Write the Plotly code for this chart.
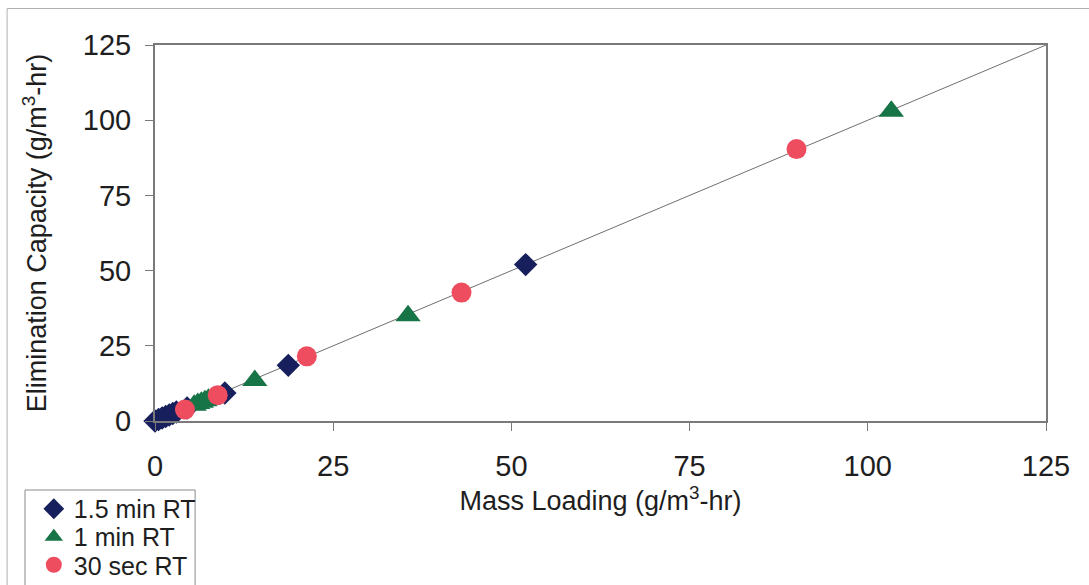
import plotly.graph_objects as go

# --- data ---
rt15_x = [0, 0.5, 1, 1.5, 2, 2.5, 3, 4.5, 9.8, 18.7, 52]
rt15_y = [0, 0.5, 1, 1.5, 2, 2.5, 3, 4.3, 9.3, 18.5, 52]
rt1_x = [5.5, 6, 6.5, 7, 7.5, 14, 35.5, 103.3]
rt1_y = [5.2, 5.8, 6.2, 6.7, 7.2, 13.5, 35, 103]
rt30_x = [4.2, 8.8, 21.3, 43, 90]
rt30_y = [3.8, 8.6, 21.5, 42.7, 90.4]
fit_x = [0, 125]
fit_y = [0, 125]
ticks = [0, 25, 50, 75, 100, 125]

FONT = "Liberation Sans, Arial, sans-serif"
TXT = "#1e1e1e"

fig = go.Figure()
fig.add_trace(go.Scatter(x=fit_x, y=fit_y, mode="lines",
                         line=dict(color="#6f6f6f", width=1),
                         showlegend=False, hoverinfo="skip"))
fig.add_trace(go.Scatter(x=rt15_x, y=rt15_y, mode="markers", name="1.5 min RT",
                         marker=dict(symbol="diamond", size=18, color="#17205c"),
                         cliponaxis=False, legend="legend"))
fig.add_trace(go.Scatter(x=rt1_x, y=rt1_y, mode="markers", name="1 min RT",
                         marker=dict(symbol="triangle-up", size=22, color="#177447"),
                         cliponaxis=False, legend="legend2"))
fig.add_trace(go.Scatter(x=rt30_x, y=rt30_y, mode="markers", name="30 sec RT",
                         marker=dict(symbol="circle", size=20, color="#ee4d60"),
                         cliponaxis=False, legend="legend3"))

axis_common = dict(
    range=[0, 125], tickvals=ticks, ticktext=[str(t) for t in ticks],
    showline=True, linecolor="#7a7a7a", linewidth=2, mirror=True,
    ticks="outside", ticklen=8, tickcolor="#7a7a7a", tickwidth=1,
    showgrid=False, zeroline=False,
    tickfont=dict(family=FONT, size=29, color=TXT),
)

def leg(y):
    return dict(x=-0.136, y=y, xanchor="left", yanchor="middle",
                bgcolor="rgba(0,0,0,0)", borderwidth=0,
                font=dict(family=FONT, size=25, color=TXT),
                itemwidth=30, tracegroupgap=0)

fig.update_layout(
    width=1089, height=585,
    margin=dict(l=155, r=43, t=45, b=164, autoexpand=False),
    paper_bgcolor="white", plot_bgcolor="white",
    font=dict(family=FONT, color=TXT),
    xaxis=dict(**axis_common,
               title=dict(text="Mass Loading (g/m<sup>3</sup>-hr)",
                          font=dict(family=FONT, size=27, color=TXT), standoff=8),
               ticklabelstandoff=10),
    yaxis=dict(**axis_common,
               title=dict(text="Elimination Capacity (g/m<sup>3</sup>-hr)",
                          font=dict(family=FONT, size=27, color=TXT), standoff=28),
               ticklabelstandoff=8),
    legend=leg(-0.234),
    legend2=leg(-0.3085),
    legend3=leg(-0.383),
    shapes=[
        dict(type="rect", xref="paper", yref="paper",
             x0=-0.166, x1=1.1, y0=-0.5, y1=1.097,
             line=dict(color="#b0b0b0", width=1), layer="below"),
        dict(type="rect", xref="paper", yref="paper",
             x0=-0.1459, x1=0.045, y0=-0.5, y1=-0.1835,
             line=dict(color="#8a8a8a", width=1), fillcolor="white", layer="below"),
    ],
)

fig.write_html("out.html", config={"displayModeBar": False},
               post_script="document.body.style.margin='0';")
